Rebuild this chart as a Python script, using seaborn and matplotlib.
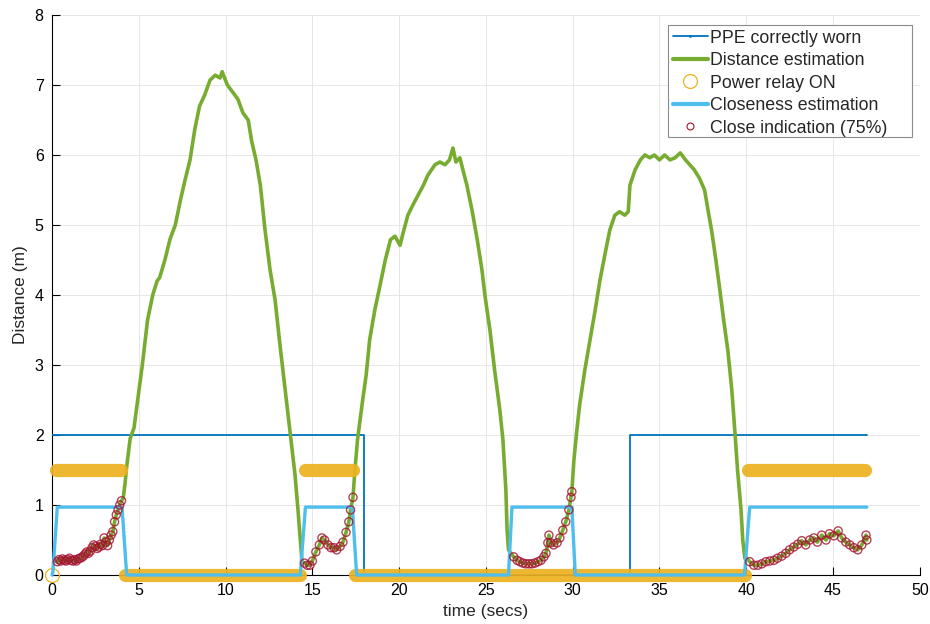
import numpy as np
import pandas as pd
import matplotlib
matplotlib.use("Agg")
import matplotlib.pyplot as plt
from matplotlib.lines import Line2D
from matplotlib.patches import Rectangle
import seaborn as sns

# ---------------- data ----------------
dist_t = [0.0, 0.1, 0.2, 0.3, 0.4, 0.5, 0.6, 0.7, 0.8, 0.9, 1.0, 1.1, 1.2, 1.3, 1.4, 1.5,
          1.6, 1.7, 1.8, 1.9, 2.0, 2.1, 2.2, 2.3, 2.4, 2.5, 2.6, 2.7, 2.8, 2.9, 3.0, 3.1,
          3.2, 3.3, 3.4, 3.5, 3.6, 3.7, 3.8, 3.9, 4.0, 4.1,
          4.2, 4.3, 4.4, 4.5, 4.72, 5.2, 5.5, 5.8, 6.05, 6.2, 6.5, 6.8, 7.1, 7.4, 7.66,
          7.95, 8.24, 8.5, 8.8, 9.1, 9.4, 9.68, 9.8, 10.1, 10.4, 10.7, 11.0, 11.3, 11.5,
          11.75, 12.0, 12.27, 12.56, 12.85, 13.13, 13.4, 13.7, 14.0, 14.17, 14.3,
          14.4, 14.55, 14.7, 14.86, 15.0, 15.2, 15.4, 15.55, 15.7, 15.9, 16.07, 16.25,
          16.4, 16.6, 16.76, 16.94, 17.1, 17.2, 17.34,
          17.45, 17.6, 17.86, 18.1, 18.3, 18.6, 18.9, 19.2, 19.5, 19.76, 20.05, 20.2,
          20.5, 20.8, 21.1, 21.4, 21.65, 22.06, 22.35, 22.64, 22.9, 23.1, 23.27, 23.5,
          23.67, 23.9, 24.2, 24.5, 24.77, 24.94, 25.23, 25.5, 25.8, 25.98, 26.15, 26.22,
          26.3, 26.44, 26.6, 26.8, 26.96, 27.13, 27.3, 27.48, 27.65, 27.82, 28.0, 28.17,
          28.34, 28.46, 28.57, 28.63, 28.74, 28.9, 29.1, 29.26, 29.43, 29.6, 29.78, 29.9,
          29.95,
          30.07, 30.24, 30.4, 30.7, 31.0, 31.3, 31.57, 31.85, 32.14, 32.43, 32.7, 33.0,
          33.2, 33.3, 33.6, 33.9, 34.16, 34.45, 34.7, 35.0, 35.3, 35.6, 35.9, 36.2, 36.5,
          36.75, 37.0, 37.3, 37.6, 37.8, 38.0, 38.25, 38.48, 38.7, 38.94, 39.17, 39.34,
          39.5, 39.7, 39.8, 39.92,
          40.03, 40.2, 40.44, 40.67, 40.9, 41.13, 41.36, 41.6, 41.8, 42.05, 42.28, 42.5,
          42.74, 42.97, 43.2, 43.43, 43.66, 43.9, 44.1, 44.35, 44.6, 44.8, 45.05, 45.3,
          45.5, 45.74, 45.97, 46.2, 46.43, 46.66, 46.9, 46.95]
dist_m = [0.18, 0.2, 0.2, 0.19, 0.22, 0.2, 0.23, 0.21, 0.2, 0.22, 0.24, 0.21, 0.2, 0.22, 0.2, 0.23,
          0.24, 0.25, 0.27, 0.3, 0.33, 0.31, 0.34, 0.39, 0.43, 0.41, 0.38, 0.4, 0.44, 0.42, 0.53, 0.47,
          0.42, 0.5, 0.57, 0.62, 0.76, 0.86, 0.93, 1.0, 1.06, 1.1,
          1.3, 1.55, 1.75, 1.95, 2.1, 3.0, 3.64, 4.0, 4.2, 4.25, 4.5, 4.8, 5.0, 5.36, 5.64,
          5.93, 6.39, 6.7, 6.86, 7.07, 7.14, 7.1, 7.19, 7.0, 6.9, 6.8, 6.6, 6.5, 6.2,
          5.93, 5.57, 4.93, 4.36, 3.93, 3.29, 2.71, 2.07, 1.43, 0.93, 0.5,
          0.19, 0.17, 0.14, 0.14, 0.2, 0.33, 0.43, 0.53, 0.5, 0.43, 0.39, 0.39,
          0.36, 0.41, 0.47, 0.61, 0.76, 0.93, 1.11,
          1.5, 1.93, 2.43, 2.86, 3.36, 3.79, 4.14, 4.5, 4.79, 4.84, 4.71, 4.86,
          5.14, 5.29, 5.43, 5.57, 5.71, 5.86, 5.9, 5.86, 5.93, 6.1, 5.9, 5.96,
          5.79, 5.57, 5.21, 4.79, 4.36, 4.0, 3.5, 2.93, 2.36, 1.93, 1.21, 0.64,
          0.36, 0.31, 0.26, 0.21, 0.19, 0.17, 0.16, 0.16, 0.16, 0.17, 0.19, 0.21,
          0.26, 0.31, 0.46, 0.57, 0.46, 0.43, 0.46, 0.53, 0.64, 0.76, 0.93, 1.11,
          1.19,
          1.64, 2.07, 2.43, 2.93, 3.36, 3.79, 4.21, 4.57, 4.93, 5.14, 5.19, 5.14,
          5.19, 5.57, 5.79, 5.93, 6.0, 5.96, 6.0, 5.93, 6.0, 5.93, 5.96, 6.03, 5.93,
          5.86, 5.79, 5.67, 5.5, 5.21, 4.93, 4.5, 4.07, 3.64, 3.21, 2.64, 2.07,
          1.5, 0.93, 0.5, 0.24,
          0.24, 0.19, 0.14, 0.14, 0.16, 0.19, 0.2, 0.21, 0.24, 0.27, 0.31, 0.36,
          0.4, 0.44, 0.49, 0.43, 0.5, 0.53, 0.47, 0.57, 0.5, 0.59, 0.56, 0.63,
          0.53, 0.47, 0.43, 0.39, 0.36, 0.43, 0.57, 0.5]

# closeness estimation (transition points)
close_t = [0.0, 0.05, 0.3, 4.03, 4.3, 14.3, 14.6, 17.3, 17.55, 26.3, 26.5, 29.95, 30.15,
           39.9, 40.2, 46.95]
close_v = [0.0, 0.05, 0.97, 0.97, 0.0, 0.0, 0.97, 0.97, 0.0, 0.0, 0.97, 0.97, 0.0,
           0.0, 0.97, 0.97]

# PPE correctly worn
ppe_t = [0.0, 18.0, 18.0, 33.3, 33.3, 46.95]
ppe_v = [2.0, 2.0, 0.0, 0.0, 2.0, 2.0]

# power relay ON (state intervals)
relay_start = [0.0, 0.25, 4.2, 14.55, 17.45, 40.1]
relay_end = [0.0, 3.95, 14.3, 17.35, 39.95, 46.85]
relay_level = [0.0, 1.5, 0.0, 1.5, 0.0, 1.5]

close_threshold = 0.75

xticks = [0, 5, 10, 15, 20, 25, 30, 35, 40, 45, 50]
yticks = [0, 1, 2, 3, 4, 5, 6, 7, 8]

legend_labels = ["PPE correctly worn", "Distance estimation", "Power relay ON",
                 "Closeness estimation", "Close indication (75%)"]

# ---------------- styling ----------------
sns.set_style("white")
plt.rcParams["font.family"] = ["Liberation Sans", "DejaVu Sans"]

C_PPE = "#0072BD"
C_DIST = "#77AC30"
C_RELAY = "#EDB120"
C_CLOSE = "#4DBEEE"
C_IND = "#A2142F"

fig = plt.figure(figsize=(9.3, 6.24), dpi=100)
ax = fig.add_axes([0.056, 0.0785, 0.933, 0.8975])

dist = pd.DataFrame({"t": dist_t, "d": dist_m})
close_df = pd.DataFrame({"t": close_t, "v": close_v})
ppe_df = pd.DataFrame({"t": ppe_t, "v": ppe_v})

# PPE line
sns.lineplot(data=ppe_df, x="t", y="v", ax=ax, color=C_PPE, lw=1.3,
             estimator=None, sort=False, zorder=2)
# distance estimation
sns.lineplot(data=dist, x="t", y="d", ax=ax, color=C_DIST, lw=2.6,
             estimator=None, sort=False, zorder=3)
# power relay
for s, e, lv in zip(relay_start, relay_end, relay_level):
    if e > s:
        seg = pd.DataFrame({"t": [s, e], "v": [lv, lv]})
        sns.lineplot(data=seg, x="t", y="v", ax=ax, color=C_RELAY, lw=9.5,
                     estimator=None, sort=False, zorder=4, alpha=0.92,
                     solid_capstyle="round", clip_on=False)
    else:
        ax.plot([s], [lv], marker="o", ms=10, mfc="none", mec=C_RELAY, mew=0.9,
                ls="none", zorder=4, clip_on=False)
# closeness estimation
sns.lineplot(data=close_df, x="t", y="v", ax=ax, color=C_CLOSE, lw=2.4,
             estimator=None, sort=False, zorder=5, clip_on=False)
# close indication: distance samples where closeness estimation > threshold
cl_interp = np.interp(dist["t"].values, close_t, close_v)
ind = dist[cl_interp > close_threshold]
sns.scatterplot(data=ind, x="t", y="d", ax=ax, s=34, facecolor="none",
                edgecolor=C_IND, linewidth=1.0, alpha=0.8, zorder=6)

ax.set_xlim(0, 50)
ax.set_ylim(0, 8)
ax.set_xticks(xticks)
ax.set_yticks(yticks)
ax.grid(True, color="#e3e3e3", lw=0.6)
ax.set_axisbelow(True)
for sp in ["top", "right"]:
    ax.spines[sp].set_visible(False)
for sp in ["left", "bottom"]:
    ax.spines[sp].set_color("black")
    ax.spines[sp].set_linewidth(0.8)
    ax.spines[sp].set_zorder(1)
ax.tick_params(direction="in", length=6, width=0.8, labelsize=11.5, colors="black",
               left=True, bottom=True, pad=6)
ax.set_xlabel("time (secs)", fontsize=12.5, labelpad=4)
ax.set_ylabel("Distance (m)", fontsize=12.5, labelpad=5)

handles = [
    Line2D([], [], color=C_PPE, lw=1.3, marker=".", ms=2),
    Line2D([], [], color=C_DIST, lw=3),
    Line2D([], [], color=C_RELAY, ls="none", marker="o", ms=10, mfc="none", mew=0.9),
    Line2D([], [], color=C_CLOSE, lw=3),
    Line2D([], [], color=C_IND, ls="none", marker="o", ms=5, mfc="none", mew=0.8),
]
# MATLAB-style legend box (with blank room on the right)
box_x0, box_y0, box_w, box_h = 0.7097, 0.7821, 0.2811, 0.2
frame = Rectangle((box_x0, box_y0), box_w, box_h, transform=ax.transAxes,
                  facecolor="white", edgecolor="#8c8c8c", lw=0.8, zorder=10,
                  clip_on=False)
ax.add_patch(frame)
leg = ax.legend(handles, legend_labels, loc="upper left",
                bbox_to_anchor=(box_x0, box_y0 + box_h),
                fontsize=12.8, frameon=False, handlelength=2.0, handletextpad=0.12,
                labelspacing=0.31, borderpad=0.26, borderaxespad=0.0)
leg.set_zorder(11)

fig.savefig("out.png", dpi=100)
